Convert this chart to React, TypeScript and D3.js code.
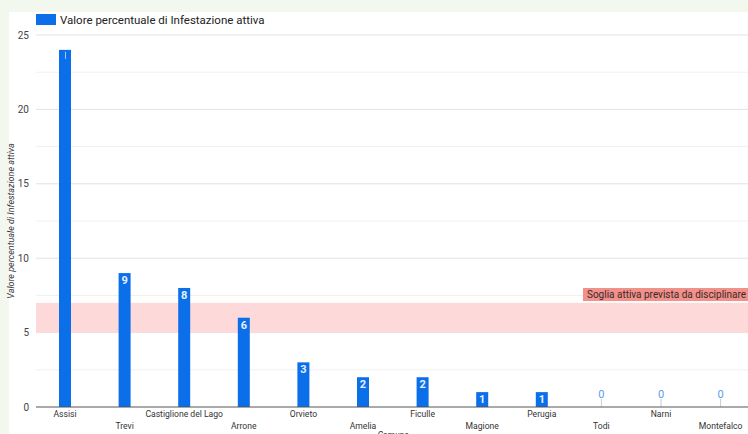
import React from "react";
import * as d3 from "d3";

const categories = ["Assisi", "Trevi", "Castiglione del Lago", "Arrone", "Orvieto", "Amelia", "Ficulle", "Magione", "Perugia", "Todi", "Narni", "Montefalco"];
const values = [24, 9, 8, 6, 3, 2, 2, 1, 1, 0, 0, 0];
const yTicks = [0, 5, 10, 15, 20, 25];
const yMinorTicks = [2.5, 7.5, 12.5, 17.5, 22.5];
const band = [5, 7];
const seriesName = "Valore percentuale di Infestazione attiva";
const bandLabel = "Soglia attiva prevista da disciplinare";
const yTitle = "Valore percentuale di Infestazione attiva";
const xTitle = "Comune";

const W = 748, H = 434;
const BLUE = "#0c6fea";

export default function App() {
  const x = d3.scaleBand<string>().domain(categories).range([35.2, 750.4]).paddingInner(0).paddingOuter(0);
  const y = d3.scaleLinear().domain([0, 25]).range([407, 35]);
  const bw = 12;
  const font = "Roboto, Arial, sans-serif";
  return (
    <svg width={W} height={H} style={{ position: "fixed", left: 0, top: 0 }} fontFamily={font}>
      <rect x={0} y={0} width={W} height={H} fill="#f3f8ee" />
      <rect x={9} y={12} width={W - 9} height={H - 12} fill="#ffffff" />
      {/* legend */}
      <rect x={36} y={14} width={20} height={11} fill={BLUE} />
      <text x={60} y={23.5} fontSize={11.5} fill="#222">{seriesName}</text>
      {/* minor grid */}
      {yMinorTicks.map((t) => (
        <line key={"m" + t} x1={36} x2={W} y1={y(t)} y2={y(t)} stroke="#f0f0f0" strokeWidth={1} />
      ))}
      {yTicks.map((t) => (
        <g key={t}>
          {t > 0 && <line x1={36} x2={W} y1={y(t)} y2={y(t)} stroke="#e2e2e2" strokeWidth={1} />}
          <text x={29} y={y(t) + 3.5} fontSize={10} fill="#444" textAnchor="end">{t}</text>
        </g>
      ))}
      {/* band */}
      <rect x={36} y={y(band[1])} width={W - 36} height={y(band[0]) - y(band[1])} fill="#fdd9d9" />
      {/* bars */}
      {categories.map((c, i) => {
        const cx = (x(c) as number) + x.bandwidth() / 2;
        const v = values[i];
        if (v === 0) {
          return (
            <g key={c}>
              <line x1={cx} x2={cx} y1={y(0)} y2={y(0) - 8} stroke="#cccccc" strokeWidth={1} />
              <text x={cx} y={y(0) - 9} fontSize={11} fill="#5a9cf0" textAnchor="middle">0</text>
            </g>
          );
        }
        const top = y(v);
        const h = y(0) - top;
        return (
          <g key={c}>
            <rect x={cx - bw / 2} y={top} width={bw} height={h} fill={BLUE} />
            {v >= 10 ? (
              <line x1={cx + 0.5} x2={cx + 0.5} y1={top + 2} y2={top + 9} stroke="#a9c8f2" strokeWidth={1} />
            ) : (
              <text x={cx} y={top + 11} fontSize={11} fontWeight="bold" fill="#e8f0ff" textAnchor="middle">{v}</text>
            )}
          </g>
        );
      })}
      {/* baseline */}
      <line x1={36} x2={W} y1={y(0)} y2={y(0)} stroke="#555" strokeWidth={1} />
      {/* x labels */}
      {categories.map((c, i) => {
        const cx = (x(c) as number) + x.bandwidth() / 2;
        return (
          <text key={"l" + c} x={cx} y={i % 2 === 0 ? 417 : 429} fontSize={8.6} fill="#333" textAnchor="middle">{c}</text>
        );
      })}
      <text x={393} y={438} fontSize={8.6} fill="#333" textAnchor="middle" fontStyle="italic">{xTitle}</text>
      <text transform={`translate(14,${y(12.5)}) rotate(-90)`} fontSize={9} fill="#333" textAnchor="middle" fontStyle="italic">{yTitle}</text>
      {/* band label */}
      <rect x={583} y={288} width={170} height={13} fill="#f2908a" />
      <text x={587} y={298} fontSize={10.3} fill="#3a2a2a" textLength={159} lengthAdjust="spacingAndGlyphs">{bandLabel}</text>
    </svg>
  );
}
